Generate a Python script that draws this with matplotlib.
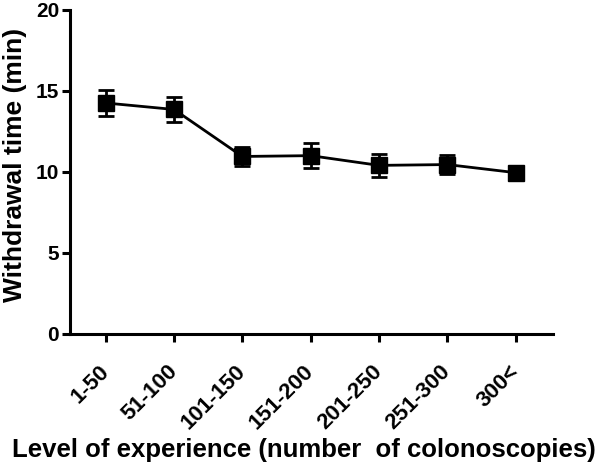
import numpy as np
import matplotlib.pyplot as plt

plt.rcParams['font.family'] = ['Liberation Sans', 'DejaVu Sans']
plt.rcParams['font.weight'] = 'bold'

# data
categories = ['1-50', '51-100', '101-150', '151-200', '201-250', '251-300', '300<']
mean_time = [14.25, 13.85, 10.95, 11.0, 10.4, 10.45, 9.95]
sem_time = [0.8, 0.75, 0.6, 0.75, 0.7, 0.6, 0.25]

fig = plt.figure(figsize=(6, 4.67), dpi=100)
ax = fig.add_axes([0.117, 0.285, 0.805, 0.694])

x = np.arange(len(categories))
ax.errorbar(x, mean_time, yerr=sem_time, color='black', linewidth=2,
            marker='s', markersize=11, elinewidth=2, capsize=5.5, capthick=2)

ax.set_xlim(-0.52, 6.55)
ax.set_ylim(0, 20)
ax.set_yticks([0, 5, 10, 15, 20])
ax.set_xticks(x)
ax.set_xticklabels(categories, rotation=45, ha='right', va='center',
                   rotation_mode='anchor')

for side in ['top', 'right']:
    ax.spines[side].set_visible(False)
for side in ['left', 'bottom']:
    ax.spines[side].set_linewidth(2.2)

ax.tick_params(axis='both', width=2.2, length=6)
ax.tick_params(axis='y', labelsize=15, pad=2)
ax.tick_params(axis='x', labelsize=16, pad=19)

ax.set_ylabel('Withdrawal time (min)', fontsize=19, fontweight='bold', va='center')
ax.yaxis.set_label_coords(-0.115, 0.52)
ax.set_xlabel('Level of experience (number  of colonoscopies)', fontsize=18.5,
              fontweight='bold', va='center')
ax.xaxis.set_label_coords(0.483, -0.358)

fig.savefig('out.png', dpi=100)
